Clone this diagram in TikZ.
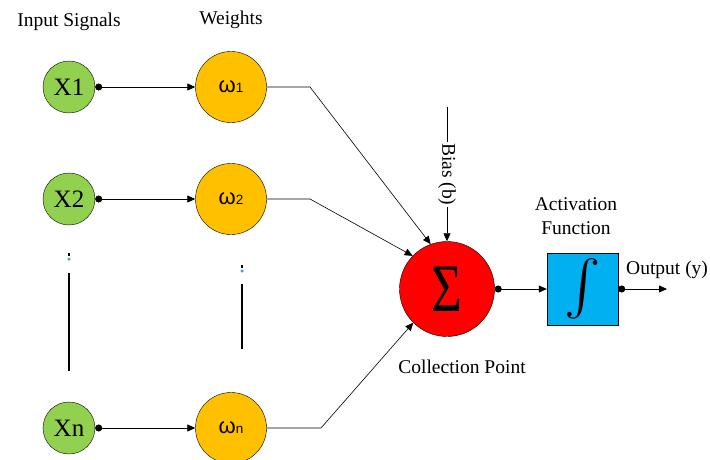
\documentclass[tikz,border=0pt]{standalone}
\usepackage{fontspec}
\setmainfont{Liberation Serif}
\newfontfamily\omegafont{Liberation Sans}
\usetikzlibrary{arrows.meta}
\definecolor{ingreen}{HTML}{92D050}
\definecolor{wgold}{HTML}{FFC000}
\definecolor{sumred}{HTML}{FF0000}
\definecolor{actblue}{HTML}{00B0F0}
\definecolor{dotblue}{HTML}{5B9BD5}
\tikzset{
  inputnode/.style={circle, draw=black, fill=ingreen, minimum size=52pt, inner sep=0pt, font=\fontsize{25}{28}\selectfont},
  weightnode/.style={circle, draw=black, fill=wgold, minimum size=71pt, inner sep=0pt},
  sumnode/.style={circle, draw=black, fill=sumred, minimum size=95pt, inner sep=0pt},
  actnode/.style={rectangle, draw=black, fill=actblue, minimum width=71pt, minimum height=72pt, inner sep=0pt},
  lbl/.style={font=\fontsize{19.5}{23}\selectfont, inner sep=0pt},
  conn/.style={draw=black, line width=0.8pt, {Circle[length=7pt]}-{Triangle[length=8pt,width=7pt]}},
  wire/.style={draw=black, line width=0.6pt, -{Triangle[length=8pt,width=7pt]}},
  gapline/.style={draw=black, line width=1.3pt},
  gapdot/.style={circle, fill=dotblue, inner sep=0pt, minimum size=3.5pt}
}
\newcommand{\wlab}[1]{{\omegafont\fontsize{22}{24}\selectfont ω\fontsize{13.5}{15}\selectfont #1}}
\begin{document}
\begin{tikzpicture}[x=1pt,y=-1pt]
\useasboundingbox (0,0) rectangle (710,460);
% labels
\node[lbl] (tin) at (69,22) {Input Signals};
\node[lbl] (tw) at (231,20) {Weights};
% inputs
\node[inputnode] (x1) at (69,87) {X1};
\node[inputnode] (x2) at (69,199) {X2};
\node[inputnode] (xn) at (69,428) {Xn};
% weights
\node[weightnode] (w1) at (231,87) {\wlab{1}};
\node[weightnode] (w2) at (231,199) {\wlab{2}};
\node[weightnode] (wn) at (231,428) {\wlab{n}};
% summation
\node[sumnode] (sig) at (447,289) {\fontsize{68}{70}\selectfont\raisebox{-2pt}{\scalebox{0.78}[1]{Σ}}};
\node[lbl] (tcp) at (462,367) {Collection Point};
% activation
\node[actnode] (act) at (582.5,289) {\raisebox{-2pt}{\resizebox{!}{44pt}{$\int$}}};
\node[lbl, align=center, font=\fontsize{19.5}{24}\selectfont] (tact) at (576,216) {Activation\\Function};
\coordinate (out) at (667,289);
\node[lbl, anchor=south west] (tout) at (626,279) {Output (y)};
% bias
\coordinate (bias) at (447,107);
\draw[wire] (bias) -- node[lbl, rotate=-90, fill=white, inner sep=1.5pt] (tb) {Bias (b)} (sig.north);
% connectors
\draw[conn] (x1.east) -- (w1.west);
\draw[conn] (x2.east) -- (w2.west);
\draw[conn] (xn.east) -- (wn.west);
\coordinate (c1) at (310,87);
\coordinate (c2) at (310,199);
\coordinate (cn) at (321,428);
\draw[wire] (w1.east) -- (c1) -- (sig.110);
\draw[wire] (w2.east) -- (c2) -- (sig.136);
\draw[wire] (wn.east) -- (cn) -- (sig.225);
\draw[conn] (sig.east) -- (act.west);
\draw[conn] (act.east) -- (out);
% gap marks
\coordinate (ga1) at (69,253); \coordinate (ga2) at (69,256);
\coordinate (ga3) at (69,273); \coordinate (ga4) at (69,371);
\draw[gapline] (ga1) -- (ga2);
\node[gapdot] (gd1) at (69,259) {};
\draw[gapline] (ga3) -- (ga4);
\coordinate (gb1) at (242,265); \coordinate (gb2) at (242,268);
\coordinate (gb3) at (242,284); \coordinate (gb4) at (242,349);
\draw[gapline] (gb1) -- (gb2);
\node[gapdot] (gd2) at (242,271) {};
\draw[gapline] (gb3) -- (gb4);
\end{tikzpicture}
\end{document}
